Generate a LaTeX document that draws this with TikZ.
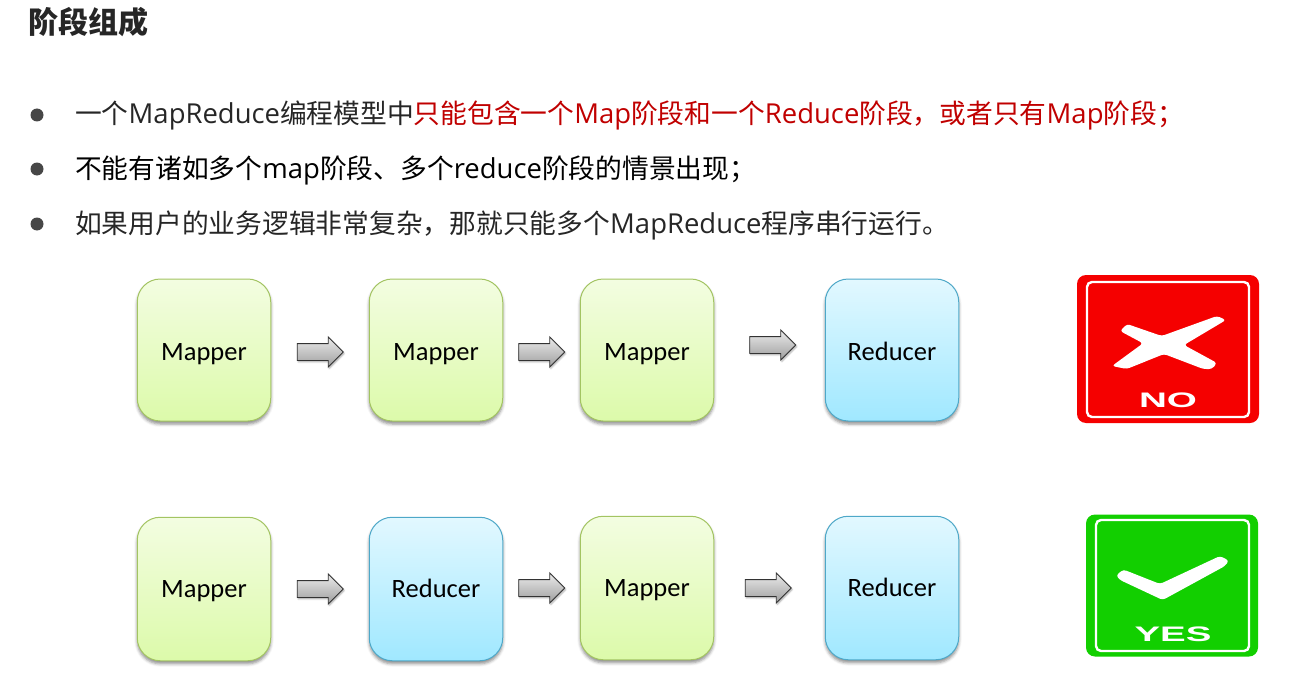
\documentclass[tikz,border=0pt]{standalone}
\usepackage{fontspec}
\setmainfont{Carlito}
\newfontfamily\cjk{Noto Sans CJK SC}
\newfontfamily\latinui{Open Sans}
\newfontfamily\signfont{Liberation Sans}
\definecolor{main}{RGB}{38, 38, 38}
\definecolor{warn}{RGB}{192, 0, 0}
\definecolor{mapperTop}{RGB}{243, 253, 225}
\definecolor{mapperBottom}{RGB}{220, 250, 170}
\definecolor{mapperLine}{RGB}{163, 196, 98}
\definecolor{reducerTop}{RGB}{226, 248, 255}
\definecolor{reducerBottom}{RGB}{160, 232, 255}
\definecolor{reducerLine}{RGB}{78, 168, 200}
\definecolor{signNo}{RGB}{245, 0, 0}
\definecolor{signYes}{RGB}{18, 207, 0}
\usetikzlibrary{shapes.arrows, shadows.blur}
\newcommand{\zh}[1]{{\cjk #1}}
\newcommand{\en}[1]{{\latinui\fontsize{27.45}{32}\selectfont #1}}
\tikzset{
    phase/.style={minimum width=133.5pt, minimum height=142pt, rounded corners=23pt, line width=1pt,
        text height=20pt, text depth=0pt,
        font=\fontsize{26.5}{30}\selectfont, blur shadow={shadow xshift=0pt, shadow yshift=-3pt, shadow blur radius=3pt, shadow opacity=45}},
    mapper/.style={phase, draw=mapperLine, top color=mapperTop, bottom color=mapperBottom},
    reducer/.style={phase, draw=reducerLine, top color=reducerTop, bottom color=reducerBottom},
    lower/.style={minimum height=143.5pt, text height=17pt},
    blockarrow/.style={single arrow, minimum height=46pt, inner sep=8pt, single arrow head extend=6.5pt, draw=black!80,
        line width=.9pt, top color=black!8, bottom color=black!38,
        blur shadow={shadow xshift=1pt, shadow yshift=-1.5pt, shadow blur radius=1.5pt, shadow opacity=35}},
    bullet/.style={circle, fill=black!72, inner sep=0pt, minimum size=13pt},
    textline/.style={anchor=base west, inner sep=0pt, text=main, font=\fontsize{26.75}{32}\selectfont},
    signtext/.style={text=white, inner sep=0pt, font=\signfont\bfseries\fontsize{21}{24}\selectfont},
}

\begin{document}
\begin{tikzpicture}[x=1pt, y=-1pt]
    \useasboundingbox (0,0) rectangle (1300,674);
    % heading and the three points
    \node[textline, font=\fontsize{30}{34}\selectfont\bfseries] (heading) at (28,34) {\zh{阶段组成}};
    \node[bullet] (dotA) at (37,115) {};
    \node[bullet] (dotB) at (37,169) {};
    \node[bullet] (dotC) at (37,224) {};
    \node[textline] (lineA) at (75,124) {\zh{一个}\en{MapReduce}\zh{编程模型中}\textcolor{warn}{\zh{只能包含一个}\en{Map}\zh{阶段和一个}\en{Reduce}\zh{阶段，或者只有}\en{Map}\zh{阶段；}}};
    \node[textline, text=black] (lineB) at (75,178) {\zh{不能有诸如多个}\en{map}\zh{阶段、多个}\en{reduce}\zh{阶段的情景出现；}};
    \node[textline] (lineC) at (75,233) {\zh{如果用户的业务逻辑非常复杂，那就只能多个}\en{MapReduce}\zh{程序串行运行。}};
    % first row
    \node[mapper] (mapA) at (204,350) {Mapper};
    \node[mapper] (mapB) at (436,350) {Mapper};
    \node[mapper] (mapC) at (647,350) {Mapper};
    \node[reducer] (redA) at (892,350) {Reducer};
    \node[blockarrow] (arrA) at (316,352) {};
    \node[blockarrow] (arrB) at (537.5,352) {};
    \node[blockarrow] (arrC) at (768.5,345) {};
    % second row
    \node[mapper, lower] (mapD) at (204,589) {Mapper};
    \node[reducer, lower] (redB) at (436,589) {Reducer};
    \node[mapper, lower] (mapE) at (647,588) {Mapper};
    \node[reducer, lower] (redC) at (892,588) {Reducer};
    \node[blockarrow] (arrD) at (316,589) {};
    \node[blockarrow] (arrE) at (537.5,588) {};
    \node[blockarrow] (arrF) at (764,588) {};
    % NO sign
    \node[fill=signNo, rounded corners=9pt, minimum width=182pt, minimum height=148pt] (noSign) at (1168,349) {};
    \node[draw=white, line width=2.4pt, rounded corners=5pt, minimum width=162pt, minimum height=135pt] (noFrame) at (1168,349.5) {};
    \fill[white, rounded corners=3pt] (1127,324) -- (1161.7,336) -- (1217,316) -- (1226,320) -- (1184,345)
        -- (1217,363) -- (1212,369) -- (1203.3,369) -- (1164,354) -- (1126.7,369) -- (1112,366) -- (1143,343.3) -- (1120,331) -- cycle;
    \node[signtext] (noText) at (1168,400) {\scalebox{1.84}[1]{NO}};
    % YES sign
    \node[fill=signYes, rounded corners=9pt, minimum width=172pt, minimum height=142pt] (yesSign) at (1172,585.5) {};
    \node[draw=white, line width=2.4pt, rounded corners=5pt, minimum width=153pt, minimum height=131pt] (yesFrame) at (1172.5,585.5) {};
    \fill[white, rounded corners=3pt] (1116,575.5) -- (1123.3,569.5) -- (1160,584) -- (1220,556) -- (1229,560.7)
        -- (1225,566) -- (1162.7,600) -- (1120,580) -- cycle;
    \node[signtext] (yesText) at (1173,634) {\scalebox{1.83}[1]{YES}};
\end{tikzpicture}
\end{document}
